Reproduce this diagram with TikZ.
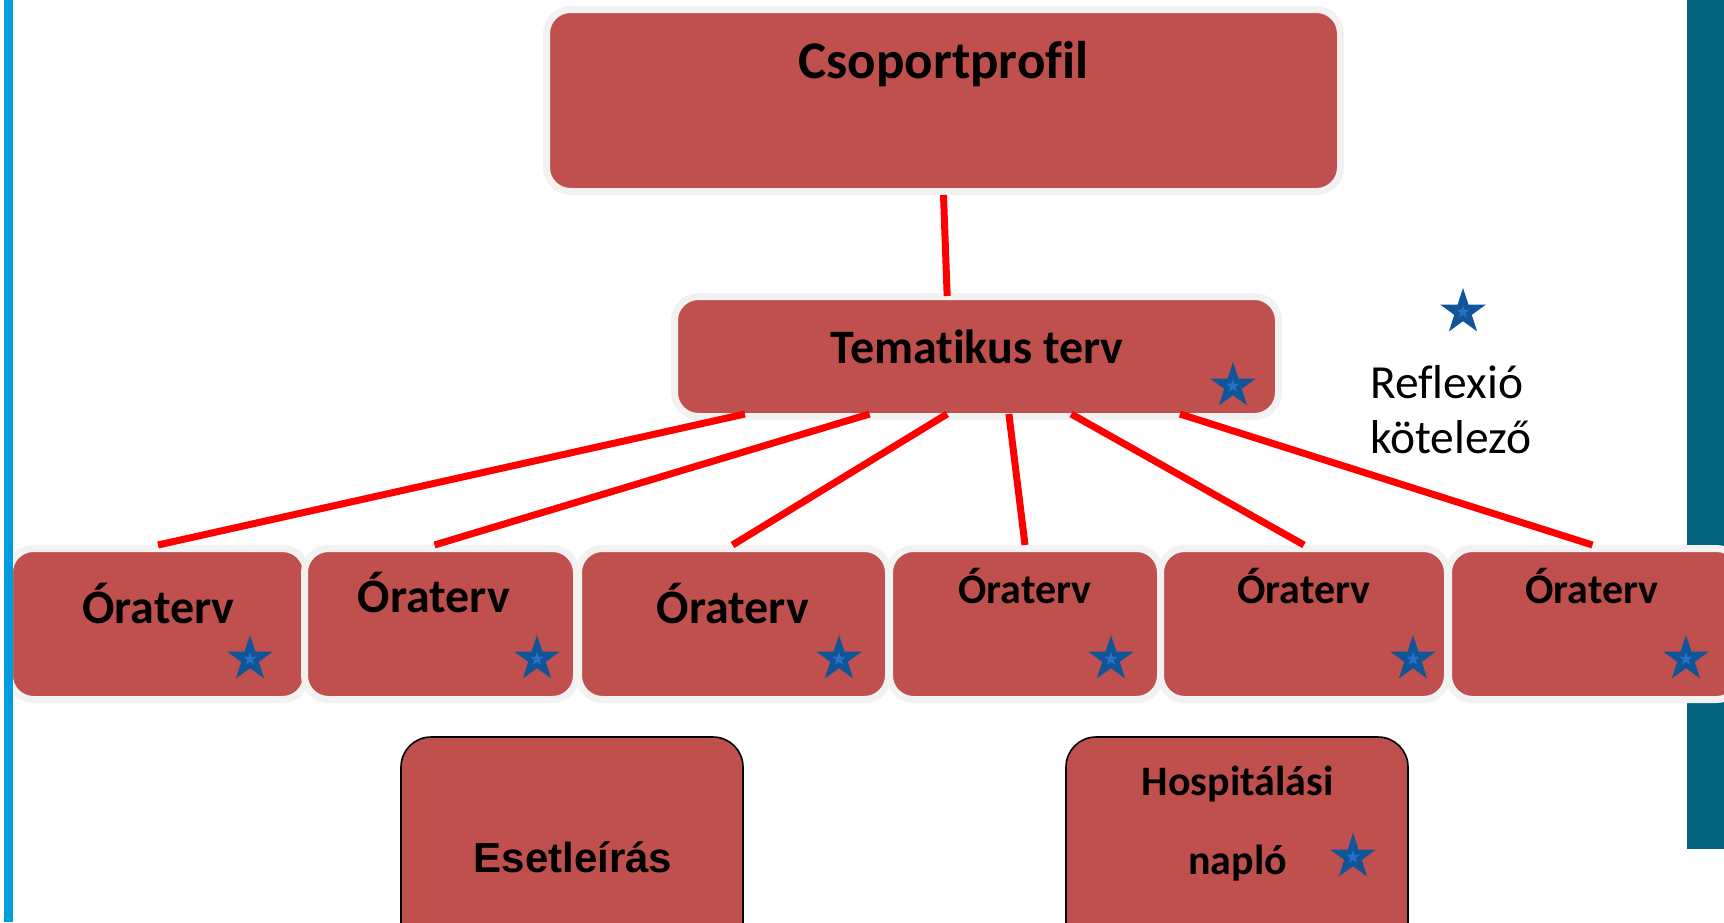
\documentclass[tikz,border=0pt]{standalone}
\usepackage{fontspec}
\setmainfont{Carlito}[Ligatures=NoCommon]
\newfontfamily\arialfont{Liberation Sans}
\usetikzlibrary{shapes.geometric,calc}
\definecolor{boxred}{HTML}{C0504D}
\definecolor{bordergray}{HTML}{F2F2F2}
\definecolor{linered}{HTML}{FF0000}
\definecolor{leftblue}{HTML}{009DDC}
\definecolor{tealbar}{HTML}{05627E}
\definecolor{starblue}{HTML}{0F5598}
\definecolor{starinner}{HTML}{2672C8}
\begin{document}
\begin{tikzpicture}[x=1pt,y=-1pt,
  box/.style={rectangle, rounded corners=24pt, fill=boxred, draw=bordergray, line width=7pt, inner sep=0pt},
  lowbox/.style={rectangle, rounded corners=30pt, fill=boxred, draw=black, line width=1.6pt, inner sep=0pt},
  conn/.style={draw=linered, line width=7pt},
  bstar/.style={star, star points=5, star point ratio=2.6, fill=starblue, minimum size=48pt, inner sep=0pt},
  istar/.style={star, star points=5, star point ratio=2.6, fill=starinner, minimum size=14pt, inner sep=0pt},
  lbl/.style={inner sep=0pt, anchor=base, text=black},
  big/.style={font=\fontsize{53}{62}\selectfont\bfseries},
  mid/.style={font=\fontsize{48}{56}\selectfont\bfseries},
  sml/.style={font=\fontsize{42}{50}\selectfont\bfseries},
  refl/.style={inner sep=0pt, anchor=base west, font=\fontsize{47.5}{55}\selectfont},
]
\useasboundingbox (0,0) rectangle (1724,922);
\clip (0,0) rectangle (1724,922);

% right teal bar
\fill[tealbar] (1687,0) rectangle (1724,849);

% boxes
\node[box, minimum width=794pt, minimum height=182pt] (cs) at (943.5,100.5) {};
\node[box, minimum width=604pt, minimum height=120pt] (tem) at (976.5,356.5) {};
\node[box, minimum width=297pt, minimum height=151pt] (o1) at (158,624) {};
\node[box, minimum width=272pt, minimum height=151pt] (o2) at (440.5,624) {};
\node[box, minimum width=310pt, minimum height=151pt] (o3) at (733.5,624) {};
\node[box, minimum width=271pt, minimum height=151pt] (o4) at (1025,624) {};
\node[box, minimum width=287pt, minimum height=151pt] (o5) at (1304,624) {};
\node[box, minimum width=292pt, minimum height=151pt] (o6) at (1594.5,624) {};

\node[lowbox, minimum width=342pt, minimum height=215pt] (es) at (572,844.5) {};
\node[lowbox, minimum width=342pt, minimum height=215pt] (ho) at (1237,844.5) {};

% texts
\node[lbl, big] (tcs) at (943.5,78) {Csoportprofil};
\node[lbl, font=\fontsize{48}{56}\selectfont\bfseries] (ttem) at (977,363) {Tematikus terv};
\node[lbl, mid] (to1) at (158.5,623) {Óraterv};
\node[lbl, mid] (to2) at (434,612) {Óraterv};
\node[lbl, mid] (to3) at (733,623) {Óraterv};
\node[lbl, sml] (to4) at (1025,603) {Óraterv};
\node[lbl, sml] (to5) at (1304,603) {Óraterv};
\node[lbl, sml] (to6) at (1592,603) {Óraterv};
\node[lbl, font=\arialfont\fontsize{42}{50}\selectfont\bfseries] (tes) at (573,872) {Esetleírás};
\node[lbl, sml] (tho1) at (1237.5,795) {Hospitálási};
\node[lbl, sml] (tho2) at (1237.5,874) {napló};
\node[refl] (refl1) at (1370,398) {Reflexió};
\node[refl] (refl2) at (1370,453) {kötelező};

% connectors
\draw[conn] (cs.south) -- ($(tem.north west)!0.452!(tem.north east)+(0,3)$);
\draw[conn] ($(tem.south west)!0.121!(tem.south east)+(0,-6)$) -- (o1.north);
\draw[conn] ($(tem.south west)!0.325!(tem.south east)+(0,-6)$) -- ($(o2.north)+(-6,0)$);
\draw[conn] ($(tem.south west)!0.452!(tem.south east)+(0,-6)$) -- ($(o3.north)+(-1,0)$);
\draw[conn] ($(tem.south west)!0.553!(tem.south east)+(0,-6)$) -- (o4.north);
\draw[conn] ($(tem.south west)!0.655!(tem.south east)+(0,-6)$) -- (o5.north);
\draw[conn] ($(tem.south west)!0.833!(tem.south east)+(0,-6)$) -- ($(o6.north)+(-2,0)$);

% stars
\foreach \n/\p in {stem/{1233,386}, s1/{250,659}, s2/{537,659}, s3/{839,659}, s4/{1111,659}, s5/{1413,659}, s6/{1686,659}, sho/{1353,857}, sref/{1463,312}} {
  \node[bstar] (\n) at (\p) {};
  \node[istar] (\n i) at (\p) {};
}

% left blue bar
\fill[leftblue] (4,0) rectangle (13,922);
\end{tikzpicture}
\end{document}
